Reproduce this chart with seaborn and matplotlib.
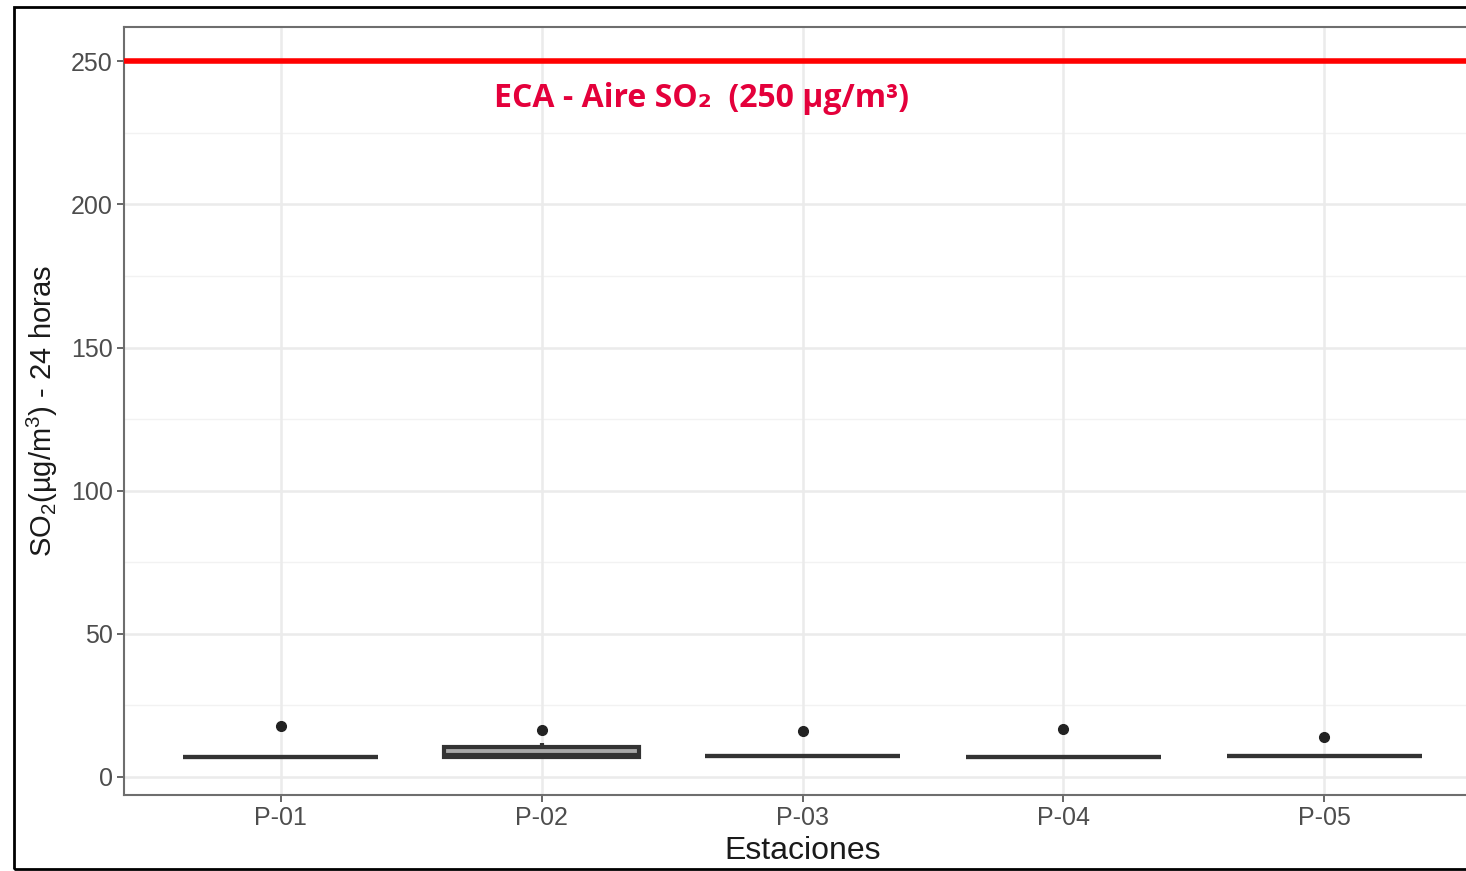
import numpy as np
import pandas as pd
import seaborn as sns
import matplotlib
matplotlib.use("Agg")
import matplotlib.pyplot as plt
from matplotlib.patches import Rectangle

# ---- data ----
stations = ["P-01", "P-02", "P-03", "P-04", "P-05"]
p01 = [7.0, 7.0, 7.0, 7.0, 7.0, 7.0, 17.8]
p02 = [6.6, 6.8, 7.0, 7.4, 7.8, 9.8, 10.4, 11.8, 16.4]
p03 = [7.3, 7.3, 7.3, 7.3, 7.3, 7.3, 16.1]
p04 = [7.0, 7.0, 7.0, 7.0, 7.0, 7.0, 16.8]
p05 = [7.3, 7.3, 7.3, 7.3, 7.3, 7.3, 14.0]
eca_limit = 250
y_ticks = [0, 50, 100, 150, 200, 250]
annot_text = "ECA - Aire SO\u2082  (250 \u00b5g/m\u00b3)"
x_label = "Estaciones"
y_label = "SO$_2$(\u00b5g/m$^3$) - 24 horas"

rows = []
for s, vals in zip(stations, [p01, p02, p03, p04, p05]):
    for v in vals:
        rows.append({"station": s, "value": v})
df = pd.DataFrame(rows)

sns.set_theme(style="white")
plt.rcParams["font.family"] = ["Liberation Sans", "DejaVu Sans"]
plt.rcParams["mathtext.fontset"] = "custom"
plt.rcParams["mathtext.rm"] = "Liberation Sans"
plt.rcParams["mathtext.it"] = "Liberation Sans"
plt.rcParams["mathtext.default"] = "regular"

W, H = 1466, 871
fig = plt.figure(figsize=(W / 100, H / 100), dpi=100)
fig.patch.set_facecolor("white")

L, R, T, B = 124, 1481, 27, 795
ax = fig.add_axes([L / W, (H - B) / H, (R - L) / W, (B - T) / H])
ax.set_facecolor("white")

# grid (theme_bw style)
for v in [25, 75, 125, 175, 225]:
    ax.axhline(v, color="#F2F2F2", lw=1.0, zorder=0)
for v in y_ticks:
    ax.axhline(v, color="#EBEBEB", lw=1.8, zorder=0)
for i in range(len(stations)):
    ax.axvline(i, color="#EBEBEB", lw=1.8, zorder=0)

sns.boxplot(
    data=df, x="station", y="value", order=stations, ax=ax,
    width=0.75, color="#a8a8a8", saturation=1, linecolor="#333333", linewidth=3,
    showcaps=False,
    flierprops=dict(marker="o", markerfacecolor="#222222", markeredgecolor="#222222", markersize=7),
    zorder=3,
)

ax.axhline(eca_limit, color="#FF0000", lw=4, zorder=4)
ax.text(1.613, 237, annot_text, color="#E4003B", fontsize=23, fontweight="bold",
        family=["Open Sans", "DejaVu Sans"], ha="center", va="center", zorder=5)

ax.set_xlim(-0.6, 4.6)
ax.set_ylim(-6.3, 262)
ax.set_yticks(y_ticks)
ax.set_yticklabels([str(v) for v in y_ticks])
ax.tick_params(axis="both", colors="#4D4D4D", labelsize=18, length=5, width=1.2,
               direction="out", pad=3, left=True, bottom=True)
for lab in ax.get_xticklabels() + ax.get_yticklabels():
    lab.set_color("#4D4D4D")

for sp in ax.spines.values():
    sp.set_visible(True)
    sp.set_color("#6E6E6E")
    sp.set_linewidth(1.5)

ax.set_xlabel(x_label, fontsize=23, color="#1A1A1A", labelpad=4)
ax.set_ylabel(y_label, fontsize=21, color="#1A1A1A", labelpad=8)

# outer frame
fig.patches.append(Rectangle((14 / W, 2 / H), 1.2, (864 - 2) / H, transform=fig.transFigure,
                             fill=False, edgecolor="black", lw=2.0, zorder=10))

fig.savefig("out.png", dpi=100)
